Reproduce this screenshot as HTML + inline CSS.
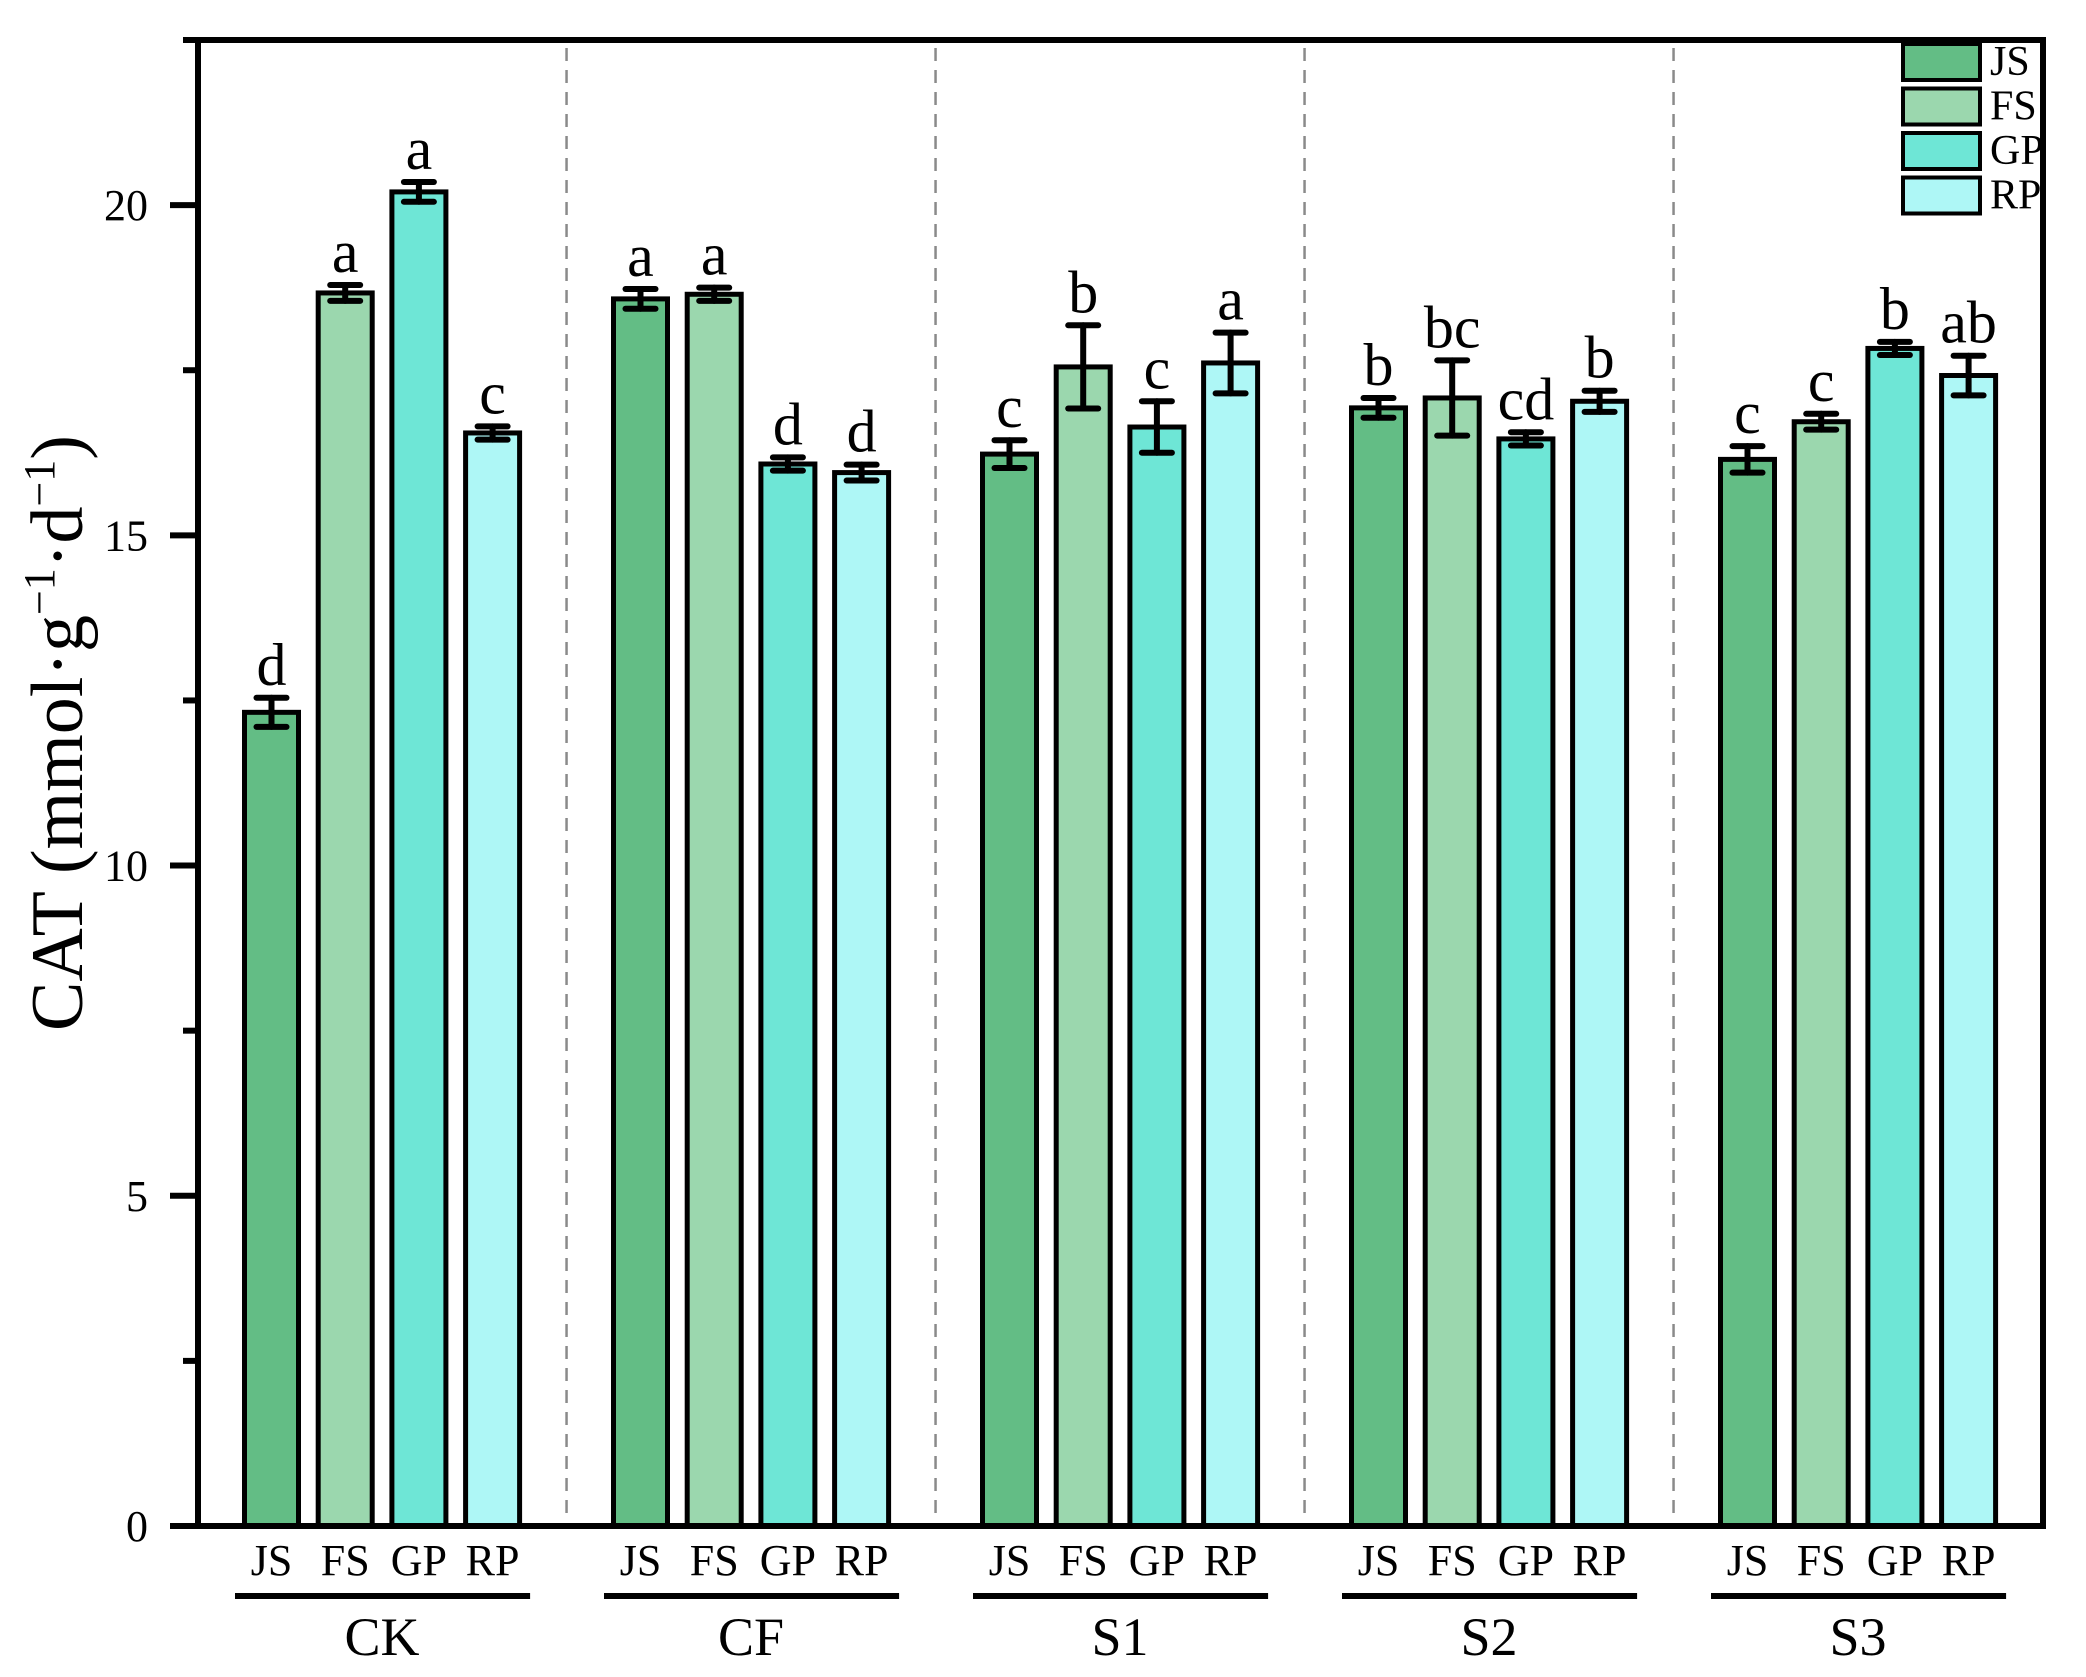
<!DOCTYPE html>
<html><head><meta charset="utf-8"><style>
html,body{margin:0;padding:0;background:#fff;}
svg{display:block;font-family:"Liberation Serif","DejaVu Serif",serif;}
</style></head><body>
<svg id="chart" width="2086" height="1677" viewBox="0 0 2086 1677" xmlns="http://www.w3.org/2000/svg">
<g id="grid"></g><g id="bars"></g><g id="axes"></g><g id="labels"></g><g id="legend"></g>
</svg>
<script>
const groups = ["CK","CF","S1","S2","S3"];
const series = ["JS","FS","GP","RP"];
const colors = ["#63bd85","#9bd7ae","#6ee6d6","#aef7f6"];
const valJS = [12.32,18.58,16.23,16.93,16.15];
const valFS = [18.67,18.65,17.55,17.08,16.72];
const valGP = [20.2,16.08,16.64,16.46,17.83];
const valRP = [16.55,15.95,17.61,17.03,17.42];
const errJS = [0.22,0.15,0.21,0.15,0.2];
const errFS = [0.12,0.1,0.63,0.57,0.12];
const errGP = [0.15,0.1,0.39,0.1,0.1];
const errRP = [0.1,0.12,0.46,0.16,0.3];
const letJS = ["d","a","c","b","c"];
const letFS = ["a","a","b","bc","c"];
const letGP = ["a","d","c","cd","b"];
const letRP = ["c","d","a","b","ab"];
const yTicks = [0,5,10,15,20];
const yMinor = [2.5,7.5,12.5,17.5,22.5];

const vals=[valJS,valFS,valGP,valRP], errs=[errJS,errFS,errGP,errRP], lets=[letJS,letFS,letGP,letRP];
const NS="http://www.w3.org/2000/svg";
const L=198,R=2043,T=40,B=1526,yMax=22.5;
const y=v=>B-(B-T)*v/yMax;
const g0=242,gPitch=369,bPitch=73.7,bW=59;
const xBar=(gi,si)=>g0+gi*gPitch+si*bPitch;
function mk(tag,attrs,parent,text){const e=document.createElementNS(NS,tag);for(const k in attrs)e.setAttribute(k,attrs[k]);if(text!==undefined)e.textContent=text;parent.appendChild(e);return e;}
const gGrid=document.getElementById('grid'),gBars=document.getElementById('bars'),gAx=document.getElementById('axes'),gLab=document.getElementById('labels'),gLeg=document.getElementById('legend');

for(let gi=1;gi<groups.length;gi++){
  const x=g0+gi*gPitch-(gPitch-3*bPitch-bW)/2;
  const d=mk('line',{x1:x,x2:x,y1:T+8,y2:B-4,stroke:'#8a8a8a','stroke-width':2.5,'stroke-dasharray':'13 9'},gGrid);
  
  
}

groups.forEach((gname,gi)=>{
  series.forEach((s,si)=>{
    const v=vals[si][gi],e=errs[si][gi],x=xBar(gi,si);
    const r=mk('rect',{x:x+2.5,y:y(v),width:bW-5,height:B-y(v),fill:colors[si],stroke:'#000','stroke-width':5},gBars);
    
    
    const cx=x+bW/2;
    const eb=mk('g',{stroke:'#000','stroke-width':6,'stroke-linecap':'round'},gBars);
    
    
    mk('line',{x1:cx,x2:cx,y1:y(v+e),y2:y(v-e)},eb);
    mk('line',{x1:cx-15,x2:cx+15,y1:y(v+e),y2:y(v+e)},eb);
    mk('line',{x1:cx-15,x2:cx+15,y1:y(v-e),y2:y(v-e)},eb);
    const t=mk('text',{x:cx,y:y(v+e)-13,'font-size':60,'text-anchor':'middle'},gLab,lets[si][gi]);
    
    
    const xl=mk('text',{x:cx,y:1575,'font-size':44,'text-anchor':'middle'},gLab,s);
    
    
  });
  const gx=g0+gi*gPitch;
  const ul=mk('line',{x1:gx-7,x2:gx+3*bPitch+bW+8,y1:1596,y2:1596,stroke:'#000','stroke-width':6},gLab);
  
  
  const gl=mk('text',{x:gx+(3*bPitch+bW)/2,y:1655,'font-size':54,'text-anchor':'middle'},gLab,gname);
  
  
});

const frame=mk('rect',{x:L,y:T,width:R-L,height:B-T,fill:'none',stroke:'#000','stroke-width':6},gAx);


yTicks.forEach(v=>{
  const tk=mk('line',{x1:L-28,x2:L,y1:y(v),y2:y(v),stroke:'#000','stroke-width':6},gAx);
  
  
  const tl=mk('text',{x:L-50,y:y(v)+15,'font-size':44,'text-anchor':'end'},gAx,String(v));
  
  
});
yMinor.forEach(v=>{
  const tk=mk('line',{x1:L-15,x2:L,y1:y(v),y2:y(v),stroke:'#000','stroke-width':6},gAx);
  
  
});
const yt=mk('text',{x:0,y:0,'font-size':74,'text-anchor':'middle',transform:'translate(82,733) rotate(-90)'},gAx);


yt.innerHTML='CAT (mmol·g<tspan font-size="44" dy="-28">−1</tspan><tspan dy="28">·d</tspan><tspan font-size="44" dy="-28">−1</tspan><tspan dy="28">)</tspan>';

series.forEach((s,si)=>{
  const yy=44+si*44.5;
  const box=mk('rect',{x:1903,y:yy,width:77,height:36,fill:colors[si],stroke:'#000','stroke-width':4},gLeg);
  
  
  const lt=mk('text',{x:1990,y:yy+31,'font-size':42},gLeg,s);
  
  
});
</script>
</body></html>
